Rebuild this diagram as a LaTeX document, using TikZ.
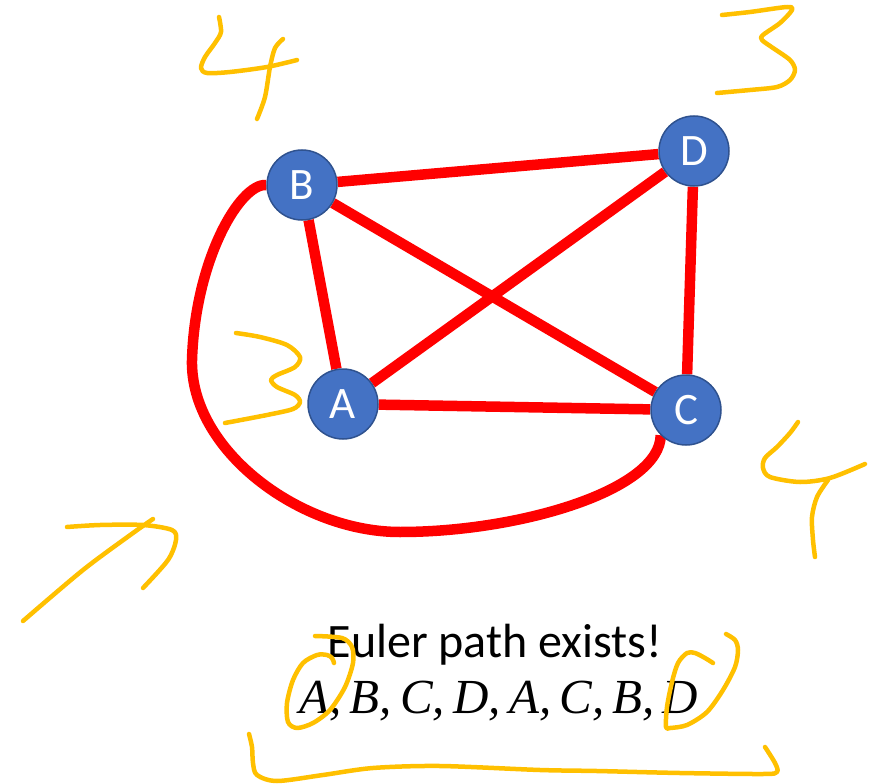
\documentclass[tikz,border=0pt]{standalone}
\usepackage{fontspec}
\setmainfont{Carlito}
\newfontfamily\walkfont{Liberation Serif}
\usetikzlibrary{backgrounds}
\definecolor{vfill}{RGB}{68,114,196}
\definecolor{vline}{RGB}{47,82,143}
\definecolor{pathred}{RGB}{255,0,0}
\definecolor{ink}{RGB}{255,192,0}

\begin{document}
\begin{tikzpicture}[
  x=1pt,y=-1pt,
  vert/.style={circle,minimum size=70pt,inner sep=0pt,fill=vfill,draw=vline,line width=1.5pt,
    text=white,font=\fontsize{45}{54}\selectfont},
  edge/.style={pathred,line width=10.5pt},
  scribble/.style={ink,line width=4.5pt,line cap=round,line join=round},
  caption/.style={inner sep=0pt,anchor=base,font=\fontsize{48}{58}\selectfont}
]
\useasboundingbox (0,0) rectangle (887,784);
% ================= graph =================
\node[vert] (B) at (302,185) {B};
\node[vert] (D) at (694,151) {D};
\node[vert] (A) at (343,404) {A};
\node[vert] (C) at (686,410) {C};
\begin{scope}[on background layer]
\draw[edge] (B)--(D);
\draw[edge] (B)--(A);
\draw[edge] (B)--(C);
\draw[edge] (A)--(D);
\draw[edge] (A)--(C);
\draw[edge] (D)--(C);
\draw[edge] (B.west) .. controls (240,183) and (195,260) .. (192,360)
  .. controls (190,450) and (300,532) .. (400,532)
  .. controls (520,532) and (660,490) .. (C.south west);
\end{scope}
% ================= text =================
\node[caption] (title) at (495,657) {Euler path exists!};
\node[caption] (walk) at (499,713) {\walkfont\itshape\fontsize{49}{58}\selectfont A,\,B,\,C,\,D,\,A,\,C,\,B,\,D};
% ================= handwritten degrees =================
% 4 (B)
\draw[scribble] plot[smooth] coordinates {(219,17) (221,32) (215,43) (205,57) (201,68) (207,73) (230,72) (267,67) (297,60)};
\draw[scribble] plot[smooth] coordinates {(283,39) (275,48) (270,67) (265,97) (257,119)};
% 3 (D)
\draw[scribble] plot[smooth] coordinates {(722,15) (750,12) (787,7) (792,10) (780,23) (763,35) (762,40) (773,48) (790,60) (795,70) (790,80) (777,87) (750,90) (717,93)};
% 3 (A)
\draw[scribble] plot[smooth] coordinates {(236,333) (260,337) (287,345) (300,357) (295,367) (277,375) (271,380) (277,387) (295,395) (300,402) (293,409) (267,415) (225,423)};
% 4 (C)
\draw[scribble] plot[smooth] coordinates {(798,422) (790,433) (777,447) (765,458) (763,468) (770,477) (800,482) (830,478) (865,464)};
\draw[scribble] plot[smooth] coordinates {(828,480) (817,497) (812,517) (813,540) (815,557)};
% 7
\draw[scribble] plot[smooth] coordinates {(67,527) (100,525) (143,525) (172,530) (176,540) (168,560) (143,588)};
\draw[scribble] plot[smooth] coordinates {(153,519) (133,533) (83,570) (23,621)};
% circles round the ends
\draw[scribble] plot[smooth] coordinates {(334,663) (332,658) (327,655) (317,655) (303,663) (293,680) (287,703) (288,722) (297,728) (313,723) (330,710) (345,687) (353,663) (352,647) (342,638) (315,636)};
\draw[scribble] plot[smooth] coordinates {(713,663) (705,658) (695,653) (687,653) (678,663) (672,682) (667,707) (666,727) (670,728) (687,725) (707,712) (723,690) (735,667) (738,650) (735,640) (726,634)};
% bracket
\draw[scribble] plot[smooth] coordinates {(249,734) (252,747) (253,763) (257,775) (277,781) (323,775) (373,768) (440,766) (540,770) (597,771) (680,773) (763,774) (777,772) (775,763) (765,747)};
\end{tikzpicture}
\end{document}
